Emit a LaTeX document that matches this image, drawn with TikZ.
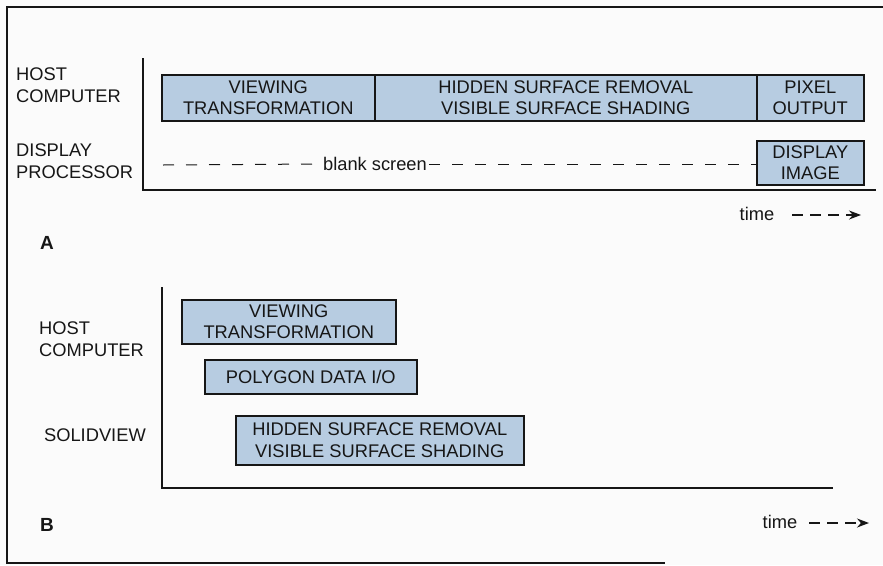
\documentclass[tikz,border=0pt]{standalone}
\usepackage{fontspec}
\setmainfont{Liberation Sans}
\usetikzlibrary{arrows.meta}
\definecolor{boxblue}{RGB}{183,204,225}
\definecolor{ink}{RGB}{22,22,22}
\tikzset{
  stage/.style={draw=ink, line width=1.5pt, fill=boxblue, inner sep=0pt, align=center, anchor=north west, text=ink, font=\fontsize{18.3}{21.5}\selectfont},
  lbl/.style={inner sep=0pt, text=ink, font=\fontsize{18.3}{22.5}\selectfont},
  axis/.style={draw=ink, line width=1.5pt},
  frame/.style={draw=ink, line width=1.1pt},
  blank/.style={draw=ink, line width=1pt, dash pattern=on 11pt off 12pt},
  timearrow/.style={draw=ink, line width=1.3pt, dash pattern=on 11pt off 7pt, -{Stealth[length=12pt,width=9pt]}},
  panel/.style={inner sep=0pt, text=ink, font=\fontsize{19}{22}\selectfont\bfseries}
}
\begin{document}
\begin{tikzpicture}[x=1pt,y=-1pt]
\useasboundingbox (0,0) rectangle (883,565);
\fill[white!97!gray] (0,0) rectangle (883,565);
% frame
\coordinate (ftr) at (883,7);
\coordinate (ftl) at (7,7);
\coordinate (fbl) at (7,563);
\coordinate (fbr) at (665,563);
\draw[frame] (ftr) -- (ftl) -- (fbl) -- (fbr);

% ---------- Panel A ----------
\coordinate (aTop) at (143,58);
\coordinate (aOrig) at (143,190);
\coordinate (aEnd) at (876,190);
\draw[axis] (aTop) -- (aOrig) -- (aEnd);

\node[lbl, anchor=west, align=left] (aHost) at (16,85) {HOST\\COMPUTER};
\node[lbl, anchor=west, align=left] (aDisp) at (16,161) {DISPLAY\\PROCESSOR};

\node[stage, minimum width=213pt, minimum height=46pt] (aVT) at (161,74) {VIEWING\\TRANSFORMATION};
\node[stage, minimum width=382pt, minimum height=46pt] (aHSR) at (374,74) {HIDDEN SURFACE REMOVAL\\VISIBLE SURFACE SHADING};
\node[stage, minimum width=107pt, minimum height=46pt] (aPix) at (756,74) {PIXEL\\OUTPUT};
\node[stage, minimum width=107pt, minimum height=44pt] (aDI) at (756,140) {DISPLAY\\IMAGE};

\coordinate (dStart) at (163,165);
\node[lbl, inner xsep=2pt] (aBlank) at (375,164) {blank screen};
\draw[blank] (dStart) -- (aBlank.west);
\draw[blank] (aBlank.east) -- (aDI.west |- aBlank.east);

\node[lbl] (aTime) at (757,214) {time};
\coordinate (aArrS) at (792,215);
\coordinate (aArrE) at (861,215);
\draw[timearrow] (aArrS) -- (aArrE);

\node[panel] (aLab) at (47,243) {A};

% ---------- Panel B ----------
\coordinate (bTop) at (162,287);
\coordinate (bOrig) at (162,488);
\coordinate (bEnd) at (833,488);
\draw[axis] (bTop) -- (bOrig) -- (bEnd);

\node[lbl, anchor=west, align=left] (bHost) at (39,339) {HOST\\COMPUTER};
\node[lbl, anchor=east] (bSolid) at (146,435) {SOLIDVIEW};

\node[stage, minimum width=214pt, minimum height=44pt] (bVT) at (181,299) {VIEWING\\TRANSFORMATION};
\node[stage, minimum width=212pt, minimum height=34pt] (bPD) at (204,359) {POLYGON DATA I/O};
\node[stage, minimum width=288pt, minimum height=49pt] (bHSR) at (235,415) {HIDDEN SURFACE REMOVAL\\VISIBLE SURFACE SHADING};

\node[lbl] (bTime) at (780,522) {time};
\coordinate (bArrS) at (809,523);
\coordinate (bArrE) at (869,523);
\draw[timearrow] (bArrS) -- (bArrE);

\node[panel] (bLab) at (47,525) {B};
\end{tikzpicture}
\end{document}
